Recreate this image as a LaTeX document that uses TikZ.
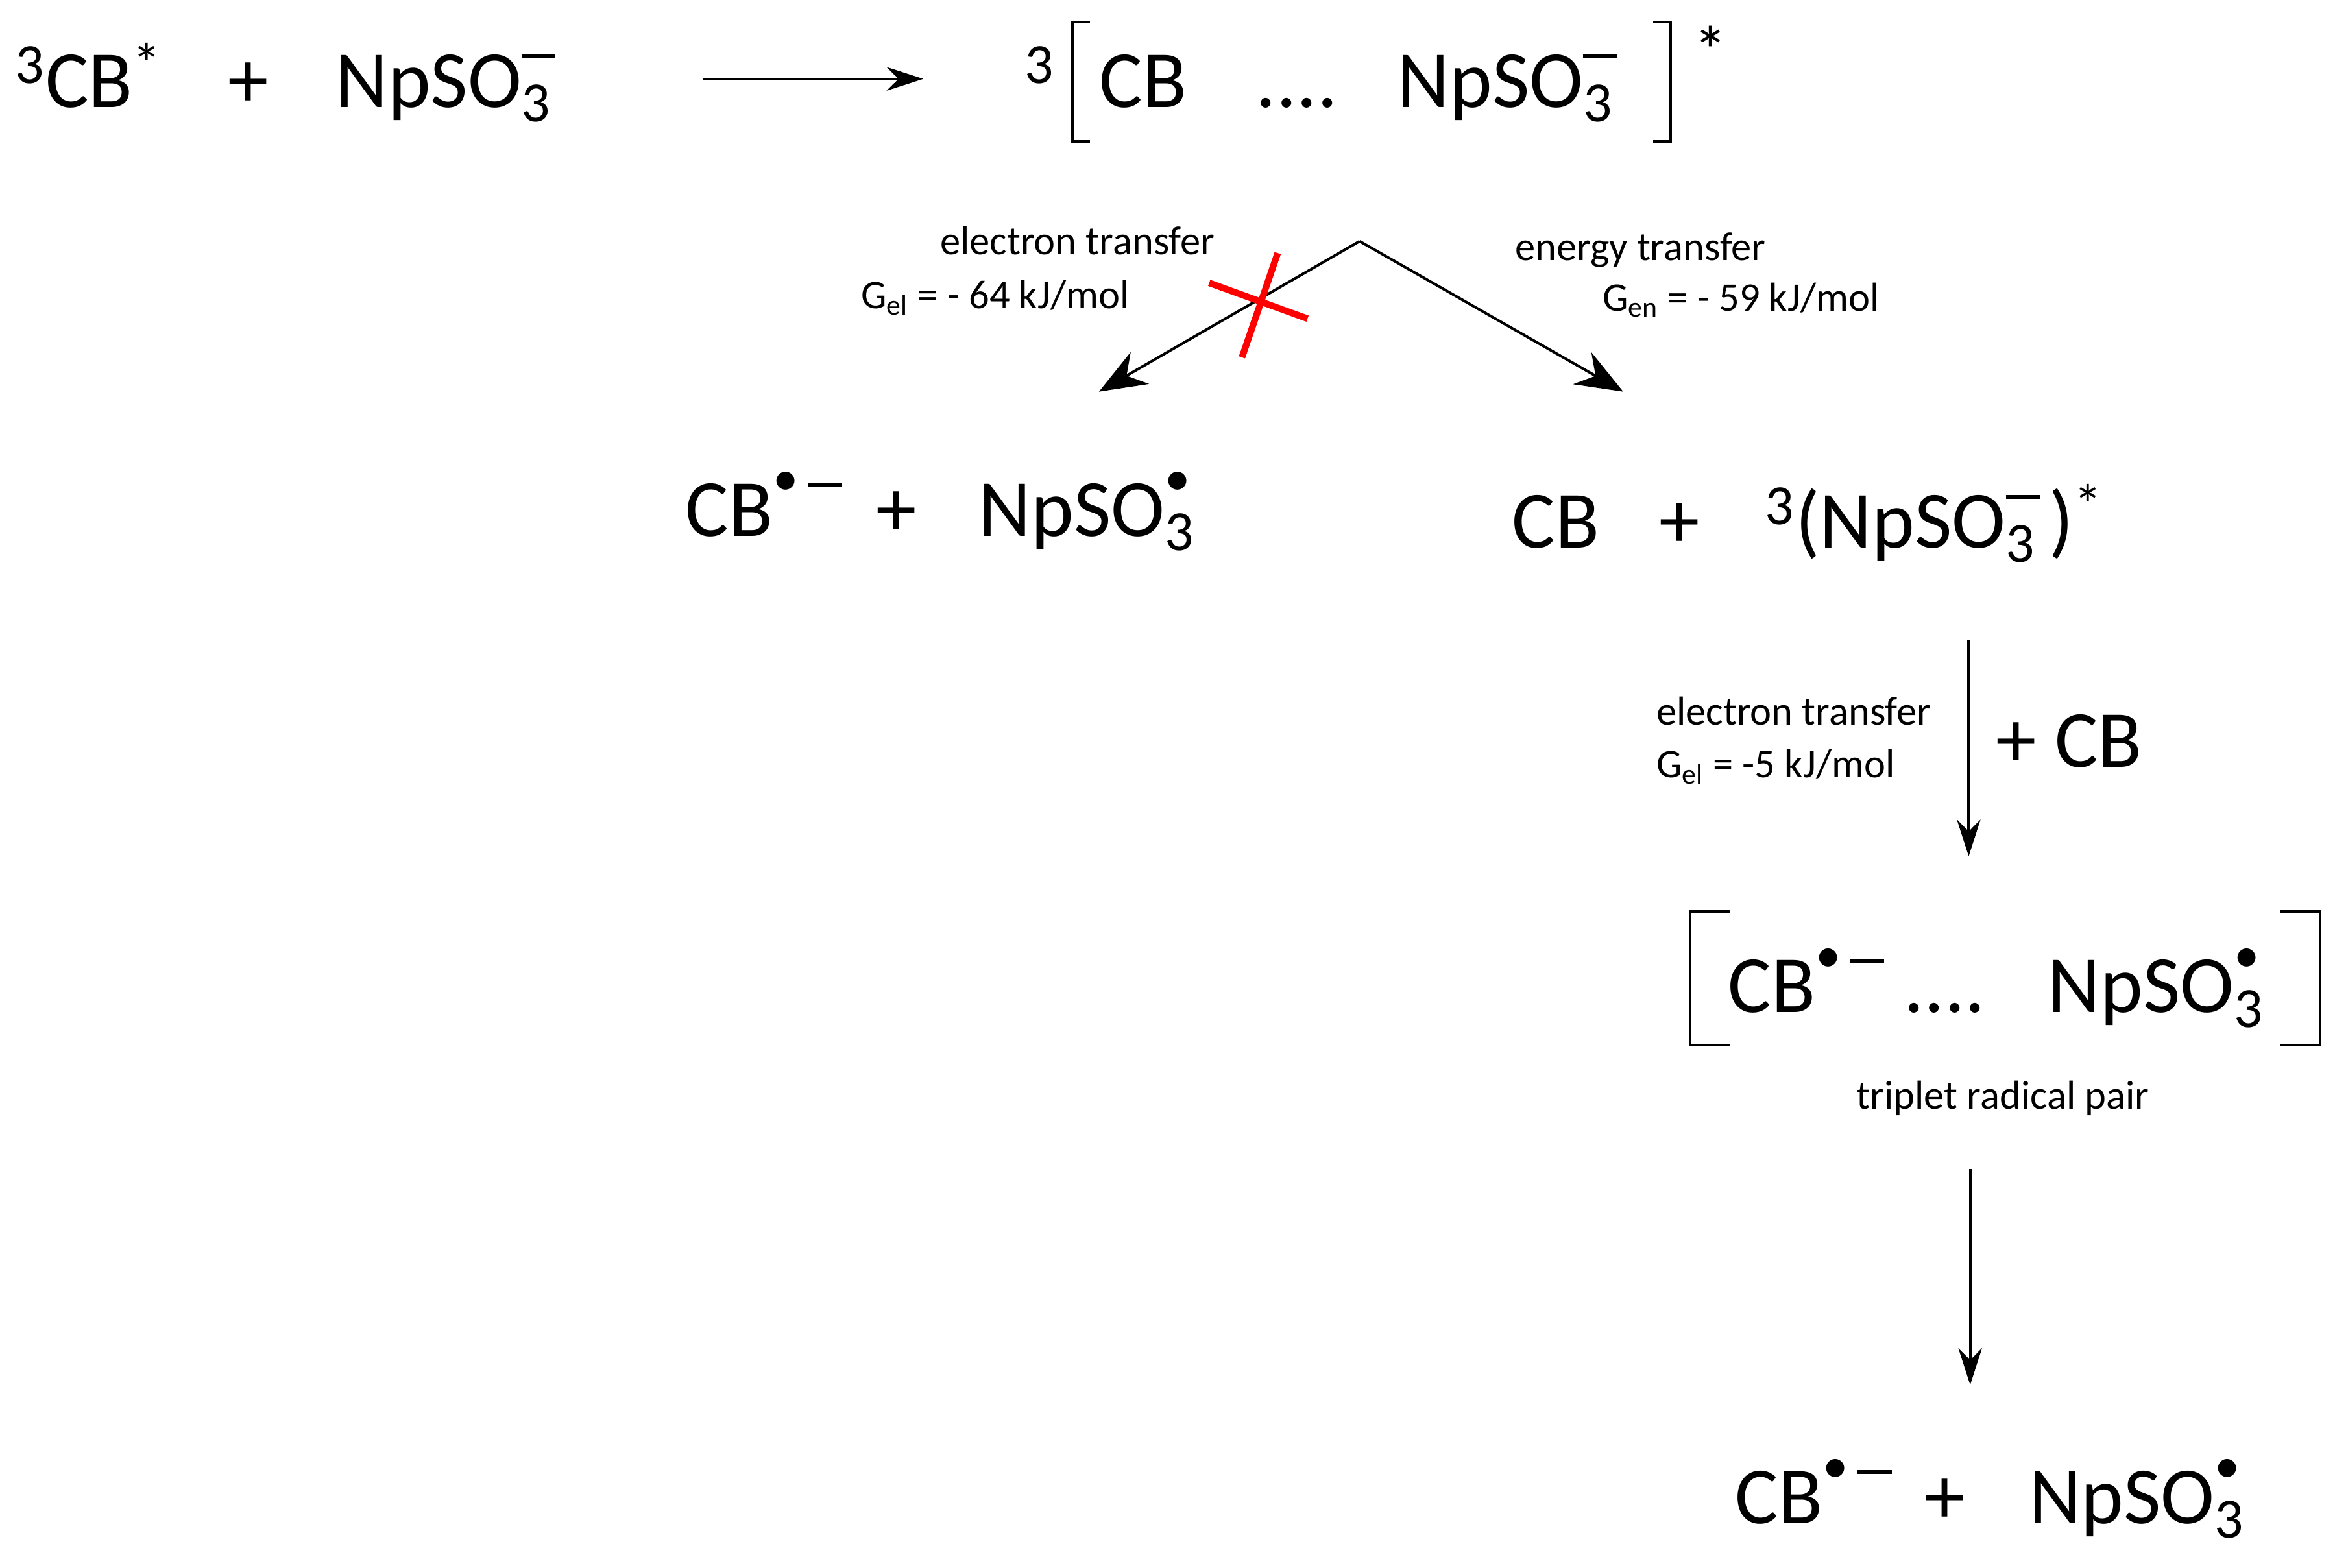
\documentclass[tikz,border=0pt]{standalone}
\usepackage{fontspec}
\setmainfont{Carlito}
\usetikzlibrary{arrows.meta}
\newcommand{\ssx}[2]{\rlap{\textsuperscript{#2}}\textsubscript{#1}}
\newcommand{\mn}{\rule[0.45em]{0.6em}{0.07em}}
\newcommand{\rad}{\raisebox{0.3em}{\scalebox{0.9}{\textbullet}}}
\begin{document}
\begin{tikzpicture}[x=0.02cm,y=-0.02cm,
 big/.style={anchor=base west,inner sep=0,font=\fontsize{31}{36}\selectfont},
 sm/.style={anchor=base west,inner sep=0,font=\fontsize{15.5}{18}\selectfont},
 arr/.style={-{Stealth[length=14pt,width=9pt]},line width=1pt},
 arrb/.style={-{Stealth[length=18pt,width=14pt]},line width=1pt},
 brk/.style={line width=1pt}]
\useasboundingbox (0,0) rectangle (1568,1053);
% row 1
\node[big] (r1a) at (10,72) {\textsuperscript{3}CB\textsuperscript{*}};
\node[big] (r1b) at (153,72) {+};
\node[big] (r1c) at (225,72) {NpSO\ssx{3}{\mn}};
\coordinate (a1) at (472,53); \coordinate (a2) at (620,53);
\draw[arr] (a1) -- (a2);
\node[big] (t3) at (688,72) {\textsuperscript{3}};
\node[big] (c1) at (738,72) {CB};
\node[big] (c2) at (843,72) {....};
\node[big] (c3) at (938,72) {NpSO\ssx{3}{\mn}};
\draw[brk] (732,15) -- (720,15) -- (720,95) -- (732,95);
\draw[brk] (1110,15) -- (1122,15) -- (1122,95) -- (1110,95);
\node[big] (st) at (1137,50) {\fontsize{26}{30}\selectfont *};
% branch
\coordinate (ap) at (913,162);
\coordinate (lt) at (738,263); \coordinate (rt) at (1090,263);
\draw[arrb] (ap) -- (lt);
\draw[arrb] (ap) -- (rt);
\draw[red,line width=2.5pt] (812,190) -- (878,214) (858,170) -- (834,240);
\node[sm] (l1) at (631,171) {electron transfer};
\node[sm] (l2) at (578,207) {G\textsubscript{el} = - 64 kJ/mol};
\node[sm] (l3) at (1017,175) {energy transfer};
\node[sm] (l4) at (1076,209) {G\textsubscript{en} = - 59 kJ/mol};
% row 2
\node[big] (p1a) at (460,360) {CB\textsuperscript{\rad\,\mn}};
\node[big] (p1b) at (588,360) {+};
\node[big] (p1c) at (657,360) {NpSO\ssx{3}{\rad}};
\node[big] (p2a) at (1015,368) {CB};
\node[big] (p2b) at (1114,368) {+};
\node[big] (p2c) at (1185,368) {\textsuperscript{3}(NpSO\ssx{3}{\mn}\,)\textsuperscript{*}};
\coordinate (d1) at (1322,430); \coordinate (d2) at (1322,575);
\draw[arr] (d1) -- (d2);
\node[sm] (l5) at (1112,487) {electron transfer};
\node[sm] (l6) at (1112,522) {G\textsubscript{el} = -5 kJ/mol};
\node[big] (pc) at (1340,515) {+ CB};
% radical pair
\draw[brk] (1162,612) -- (1135,612) -- (1135,702) -- (1162,702);
\draw[brk] (1531,612) -- (1558,612) -- (1558,702) -- (1531,702);
\node[big] (rpa) at (1160,680) {CB\textsuperscript{\rad\,\mn}};
\node[big] (rpb) at (1278,680) {....};
\node[big] (rpc) at (1375,680) {NpSO\ssx{3}{\rad}};
\node[sm,anchor=base] (tr) at (1345,745) {triplet radical pair};
\coordinate (e1) at (1323,785); \coordinate (e2) at (1323,930);
\draw[arr] (e1) -- (e2);
\node[big] (fa) at (1165,1023) {CB\textsuperscript{\rad\,\mn}};
\node[big] (fb) at (1292,1023) {+};
\node[big] (fc) at (1362,1023) {NpSO\ssx{3}{\rad}};
\end{tikzpicture}
\end{document}
